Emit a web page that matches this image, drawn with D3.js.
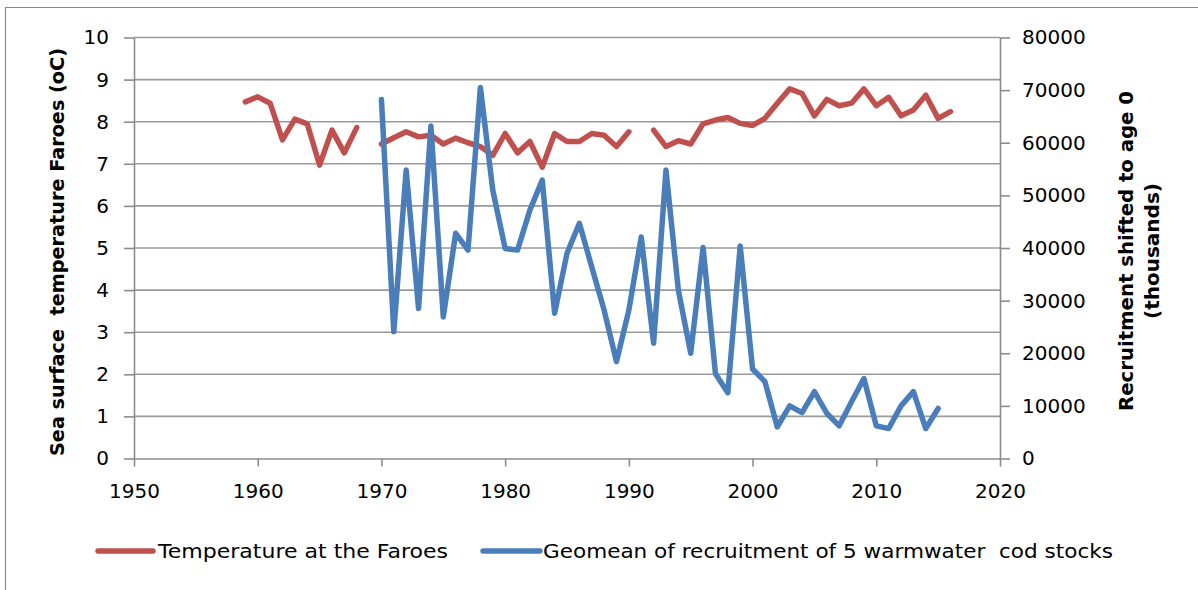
<!DOCTYPE html>
<html>
<head>
<meta charset="utf-8">
<script src="https://cdn.jsdelivr.net/npm/d3@7"></script>
<style>
  html, body { margin: 0; padding: 0; background: #fff; }
  svg { display: block; }
  text { font-family: "DejaVu Sans", sans-serif; fill: #000; }
</style>
</head>
<body>
<svg id="chart" width="1198" height="590"></svg>
<script>
// ---- data ----
const tempYears = d3.range(1959, 2017);
const tempValues = [
  8.47, 8.59, 8.44, 7.57, 8.06, 7.95, 6.97, 7.80, 7.26, 7.86,
  null,
  7.47, 7.62, 7.76, 7.64, 7.68, 7.47, 7.61, 7.50, 7.41, 7.20,
  7.72, 7.26, 7.53, 6.92, 7.72, 7.53, 7.53, 7.72, 7.68, 7.41, 7.76,
  null,
  7.80, 7.41, 7.55, 7.47, 7.95, 8.04, 8.10, 7.96, 7.91, 8.08,
  8.44, 8.78, 8.67, 8.14, 8.53, 8.38, 8.44, 8.78, 8.38, 8.58,
  8.14, 8.28, 8.63, 8.08, 8.24
];
const recYears = d3.range(1970, 2016);
const recValues = [
  68200, 24100, 54800, 28500, 63200, 26900, 42800, 39600, 70500, 51000,
  39900, 39600, 47200, 52900, 27600, 39000, 44700, 36400, 28200, 18400,
  28200, 42100, 21900, 54800, 32000, 20000, 40100, 16100, 12500, 40400,
  17000, 14600, 6000, 10000, 8700, 12700, 8600, 6200, 10800, 15200,
  6200, 5700, 10000, 12700, 5700, 9500
];
const xTicks = [1950, 1960, 1970, 1980, 1990, 2000, 2010, 2020];
const leftTicks = [0, 1, 2, 3, 4, 5, 6, 7, 8, 9, 10];
const rightTicks = [0, 10000, 20000, 30000, 40000, 50000, 60000, 70000, 80000];
const seriesNames = ["Temperature at the Faroes", "Geomean of recruitment of 5 warmwater  cod stocks"];
const leftTitle = "Sea surface  temperature Faroes (oC)";
const rightTitle = ["Recruitment shifted to age 0", "(thousands)"];

// ---- layout ----
const svg = d3.select("#chart");
const L = 134, R = 1000, T = 37.5, B = 458.5;
const red = "#C0504D", blue = "#4A7EBB";
const gridColor = "#9a9a9a", axisColor = "#8c8c8c";

const x = d3.scaleLinear().domain([1950, 2020]).range([L, R]);
const yL = d3.scaleLinear().domain([0, 10]).range([B, T]);
const yR = d3.scaleLinear().domain([0, 80000]).range([B, T]);

// outer chart border
svg.append("path")
  .attr("d", `M5.5,590 L5.5,7.5 L1198,7.5`)
  .attr("fill", "none").attr("stroke", "#8a8a8a").attr("stroke-width", 1.2);

// gridlines
svg.append("g").selectAll("line").data(leftTicks.filter(d => d > 0)).join("line")
  .attr("x1", L).attr("x2", R)
  .attr("y1", d => yL(d)).attr("y2", d => yL(d))
  .attr("stroke", gridColor).attr("stroke-width", 1.6);

// axes
const axStyle = g => {
  g.select(".domain").attr("stroke", axisColor).attr("stroke-width", 1.6);
  g.selectAll(".tick line").attr("stroke", axisColor).attr("stroke-width", 1.6);
  g.selectAll(".tick text").attr("font-family", "DejaVu Sans").attr("font-size", 20).attr("fill", "#000");
};

svg.append("g").attr("transform", `translate(${L},0)`)
  .call(d3.axisLeft(yL).tickValues(leftTicks).tickSize(10).tickPadding(15).tickSizeOuter(0))
  .call(axStyle);

svg.append("g").attr("transform", `translate(${R},0)`)
  .call(d3.axisRight(yR).tickValues(rightTicks).tickSize(10).tickPadding(12).tickFormat(d3.format("d")).tickSizeOuter(0))
  .call(axStyle);

svg.append("g").attr("transform", `translate(0,${B})`)
  .call(d3.axisBottom(x).tickValues(xTicks).tickSize(8).tickPadding(17).tickFormat(d3.format("d")).tickSizeOuter(0))
  .call(axStyle);

// axis titles
svg.append("text")
  .attr("transform", `translate(64,252) rotate(-90)`)
  .attr("text-anchor", "middle")
  .attr("font-family", "Liberation Sans").attr("font-weight", "bold").attr("font-size", 20)
  .attr("textLength", 408).attr("lengthAdjust", "spacingAndGlyphs")
  .style("white-space", "pre")
  .text(leftTitle);

svg.append("text")
  .attr("transform", `translate(1133,251) rotate(-90)`)
  .attr("text-anchor", "middle")
  .attr("font-family", "Liberation Sans").attr("font-weight", "bold").attr("font-size", 20)
  .attr("textLength", 320).attr("lengthAdjust", "spacingAndGlyphs")
  .text(rightTitle[0]);
svg.append("text")
  .attr("transform", `translate(1159,251) rotate(-90)`)
  .attr("text-anchor", "middle")
  .attr("font-family", "Liberation Sans").attr("font-weight", "bold").attr("font-size", 20)
  .text(rightTitle[1]);

// series
const tempData = tempYears.map((yr, i) => ({ x: yr, y: tempValues[i] }));
const recData = recYears.map((yr, i) => ({ x: yr, y: recValues[i] }));

svg.append("path").datum(tempData)
  .attr("fill", "none").attr("stroke", red).attr("stroke-width", 5.5)
  .attr("stroke-linejoin", "round").attr("stroke-linecap", "round")
  .attr("d", d3.line().defined(d => d.y != null).x(d => x(d.x)).y(d => yL(d.y)));

svg.append("path").datum(recData)
  .attr("fill", "none").attr("stroke", blue).attr("stroke-width", 5.5)
  .attr("stroke-linejoin", "round").attr("stroke-linecap", "round")
  .attr("d", d3.line().x(d => x(d.x)).y(d => yR(d.y)));

// legend
const legend = [
  { name: seriesNames[0], color: red, x0: 98, x1: 153, tx: 158, tl: 290 },
  { name: seriesNames[1], color: blue, x0: 483, x1: 540, tx: 543, tl: 570 }
];
const lg = svg.append("g");
legend.forEach(d => {
  lg.append("line").attr("x1", d.x0).attr("x2", d.x1).attr("y1", 551).attr("y2", 551)
    .attr("stroke", d.color).attr("stroke-width", 5.5).attr("stroke-linecap", "round");
  lg.append("text").attr("x", d.tx).attr("y", 558)
    .attr("font-family", "DejaVu Sans").attr("font-size", 20)
    .attr("textLength", d.tl).attr("lengthAdjust", "spacingAndGlyphs")
    .style("white-space", "pre")
    .text(d.name);
});
</script>
</body>
</html>
